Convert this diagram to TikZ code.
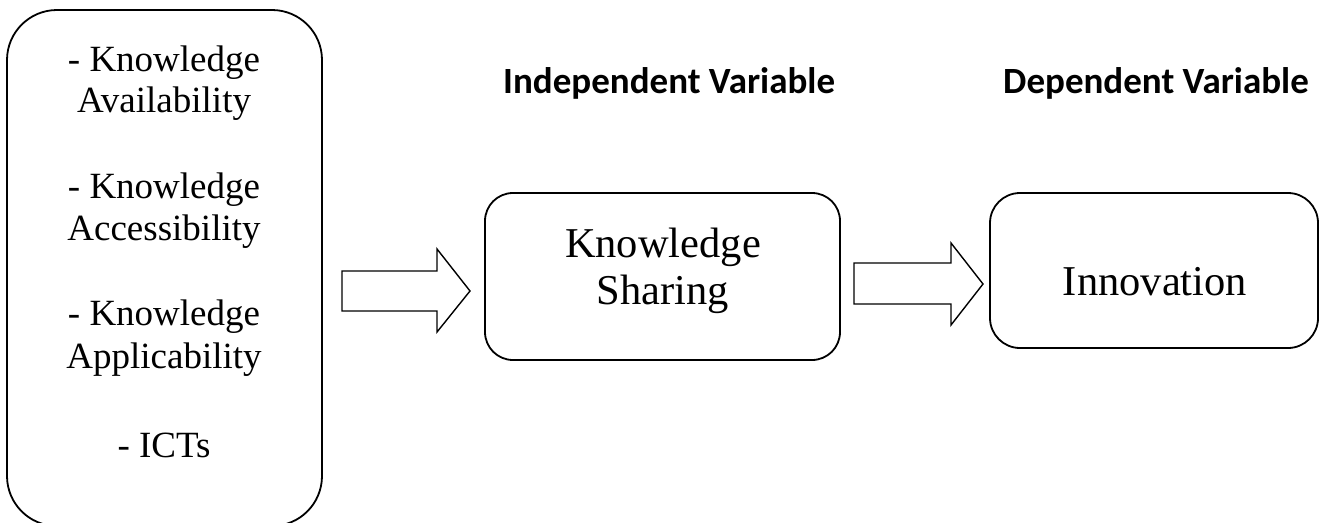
\documentclass[tikz,border=0pt]{standalone}
\usepackage{fontspec}
\setmainfont{Liberation Serif}
\newfontfamily\headfont{Carlito}
\begin{document}
\begin{tikzpicture}[x=1pt,y=-1pt,
  boxstyle/.style={draw=black,line width=1.8pt},
  blockarrow/.style={draw=black,line width=1.4pt,line join=miter,fill=white},
  lefttext/.style={anchor=base,inner sep=0pt,font=\fontsize{37}{42}\selectfont},
  midtext/.style={anchor=base,inner sep=0pt,font=\fontsize{42.5}{48}\selectfont},
  headtext/.style={anchor=base west,inner sep=0pt,font=\headfont\bfseries\fontsize{37}{43}\selectfont}]
\useasboundingbox (0,0) rectangle (1321,522);
% boxes
\draw[boxstyle,rounded corners=50pt] (7,10) rectangle (322,526);
\draw[boxstyle,rounded corners=28pt] (485,193) rectangle (840,360);
\draw[boxstyle,rounded corners=30pt] (990,193) rectangle (1318,348);
% left box text
\node[lefttext] (l1) at (164,71) {- Knowledge};
\node[lefttext] (l2) at (164,112) {Availability};
\node[lefttext] (l3) at (164,198) {- Knowledge};
\node[lefttext] (l4) at (164,240) {Accessibility};
\node[lefttext] (l5) at (164,325) {- Knowledge};
\node[lefttext] (l6) at (164,368) {Applicability};
\node[lefttext] (l7) at (164,457) {- ICTs};
% middle
\node[midtext] (m1) at (663,257) {Knowledge};
\node[midtext] (m2) at (663,304) {Sharing};
% right
\node[midtext] (r1) at (1155,295) {Innovation};
% headings
\node[headtext] (h1) at (503,93) {Independent Variable};
\node[headtext] (h2) at (1003,93) {Dependent Variable};
% block arrows
\draw[blockarrow] (342,271) -- (437,271) -- (437,249) -- (470,291) -- (437,332) -- (437,311) -- (342,311) -- cycle;
\draw[blockarrow] (854,263) -- (951,263) -- (951,243) -- (983,284) -- (951,325) -- (951,304) -- (854,304) -- cycle;
\end{tikzpicture}
\end{document}
